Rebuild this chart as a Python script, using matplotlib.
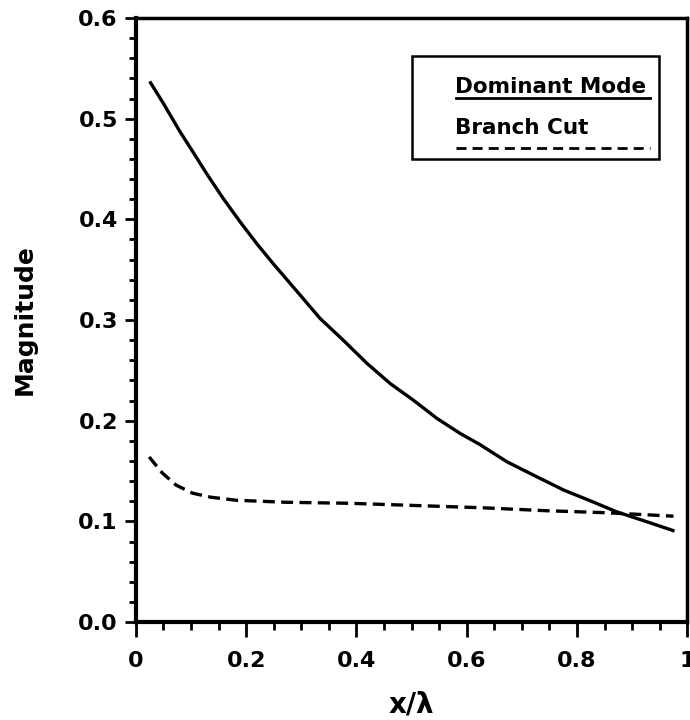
import matplotlib
matplotlib.use("Agg")
import matplotlib.pyplot as plt
from matplotlib.patches import Rectangle
from matplotlib.lines import Line2D
import numpy as np

plt.rcParams['font.family'] = ['DejaVu Sans']
plt.rcParams['font.weight'] = 'bold'

# Dominant mode (solid)
dom_x = [0.025, 0.050, 0.080, 0.104, 0.128, 0.158, 0.189, 0.219, 0.249, 0.298,
         0.334, 0.376, 0.419, 0.461, 0.503, 0.546, 0.588, 0.624, 0.673, 0.721,
         0.776, 0.824, 0.872, 0.927, 0.977]
dom_y = [0.537, 0.515, 0.487, 0.4665, 0.4456, 0.421, 0.3975, 0.376, 0.356, 0.3247,
         0.3016, 0.280, 0.257, 0.237, 0.2205, 0.2023, 0.1874, 0.1763, 0.1592, 0.146,
         0.1311, 0.1205, 0.1095, 0.0996, 0.0904]
# Branch cut (dashed)
br_x = [0.024, 0.048, 0.073, 0.103, 0.136, 0.182, 0.272, 0.387, 0.630, 0.745, 0.854, 0.975]
br_y = [0.164, 0.148, 0.136, 0.128, 0.124, 0.121, 0.119, 0.118, 0.1135, 0.1106, 0.1086, 0.1052]

xticks = [0, 0.2, 0.4, 0.6, 0.8, 1.0]
xtick_labels = ['0', '0.2', '0.4', '0.6', '0.8', '1']
yticks = [0.0, 0.1, 0.2, 0.3, 0.4, 0.5, 0.6]
ytick_labels = ['0.0', '0.1', '0.2', '0.3', '0.4', '0.5', '0.6']

fig = plt.figure(figsize=(6.9, 7.2), dpi=100)
ax = fig.add_axes([0.197, 0.136, 0.799, 0.839])

ax.plot(dom_x, dom_y, color='black', lw=2.4, solid_capstyle='butt', solid_joinstyle='round')
ax.plot(br_x, br_y, color='black', lw=2.4, linestyle=(0, (3.6, 1.9)))

ax.set_xlim(0, 1)
ax.set_ylim(0, 0.6)
ax.set_xticks(xticks)
ax.set_xticklabels(xtick_labels)
ax.set_yticks(yticks)
ax.set_yticklabels(ytick_labels)
ax.set_xticks(np.arange(0, 1.0001, 0.05), minor=True)
ax.set_yticks(np.arange(0, 0.6001, 0.02), minor=True)

for lab in ax.get_xticklabels() + ax.get_yticklabels():
    lab.set_fontweight('bold')
    lab.set_fontsize(16)

ax.tick_params(axis='x', which='major', direction='out', length=11, width=2, pad=10)
ax.tick_params(axis='x', which='minor', direction='out', length=6, width=2)
ax.tick_params(axis='y', which='major', direction='out', length=8, width=2, pad=5)
ax.tick_params(axis='y', which='minor', direction='out', length=5, width=2)

for s in ['left', 'bottom']:
    ax.spines[s].set_linewidth(3)
for s in ['top', 'right']:
    ax.spines[s].set_linewidth(2.5)

ax.set_xlabel('x/λ', fontsize=20, fontweight='bold', labelpad=14)
ax.set_ylabel('Magnitude', fontsize=18, fontweight='bold', labelpad=30)

# custom legend box
def fx(px):
    return (px - 136) / (687 - 136)
def fy(py):
    return (622 - py) / (622 - 18)

rect = Rectangle((fx(412), fy(159)), fx(659) - fx(412), fy(56) - fy(159),
                 transform=ax.transAxes, fill=False, edgecolor='black', lw=1.8)
ax.add_patch(rect)
ax.text(fx(455), fy(93), 'Dominant Mode', transform=ax.transAxes, fontsize=15.5,
        fontweight='bold', ha='left', va='baseline')
ax.add_line(Line2D([fx(456), fx(650)], [fy(98), fy(98)], transform=ax.transAxes,
                   color='black', lw=2))
ax.text(fx(455), fy(134), 'Branch Cut', transform=ax.transAxes, fontsize=15.5,
        fontweight='bold', ha='left', va='baseline')
ax.add_line(Line2D([fx(456), fx(650)], [fy(148), fy(148)], transform=ax.transAxes,
                   color='black', lw=2, linestyle=(0, (3.6, 2.2))))

fig.savefig('out.png', dpi=100)
